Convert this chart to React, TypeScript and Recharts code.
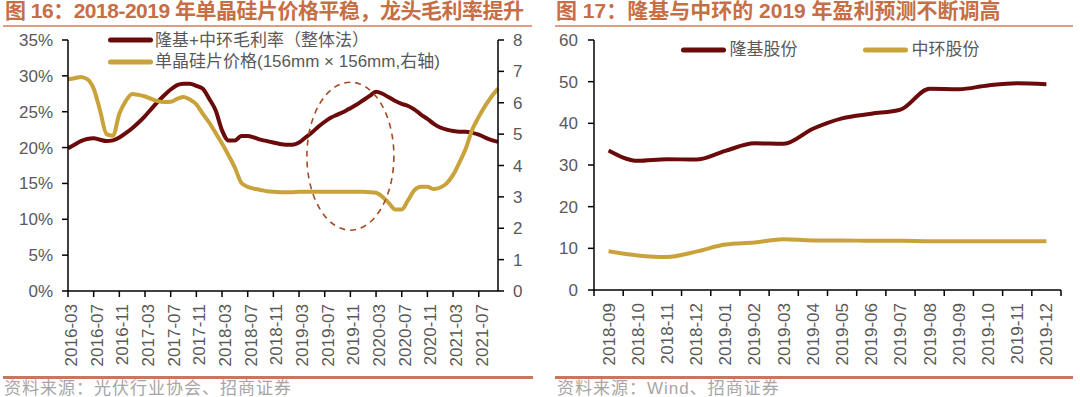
import React from 'react';
import { LineChart, Line, XAxis, YAxis, ReferenceDot, Legend } from 'recharts';

// ---------- Chart 16 data ----------
const months16 = [
  '2016-03', '2016-04', '2016-05', '2016-06', '2016-07', '2016-08', '2016-09', '2016-10', '2016-11', '2016-12',
  '2017-01', '2017-02', '2017-03', '2017-04', '2017-05', '2017-06', '2017-07', '2017-08', '2017-09', '2017-10', '2017-11', '2017-12',
  '2018-01', '2018-02', '2018-03', '2018-04', '2018-05', '2018-06', '2018-07', '2018-08', '2018-09', '2018-10', '2018-11', '2018-12',
  '2019-01', '2019-02', '2019-03', '2019-04', '2019-05', '2019-06', '2019-07', '2019-08', '2019-09', '2019-10', '2019-11', '2019-12',
  '2020-01', '2020-02', '2020-03', '2020-04', '2020-05', '2020-06', '2020-07', '2020-08', '2020-09', '2020-10', '2020-11', '2020-12',
  '2021-01', '2021-02', '2021-03', '2021-04', '2021-05', '2021-06', '2021-07', '2021-08', '2021-09', '2021-10',
];

// 隆基+中环毛利率（整体法）, %
const grossMargin = [
  19.9, 20.4, 20.9, 21.2, 21.3, 21.1, 20.9, 21.0, 21.4, 22.0,
  22.7, 23.5, 24.4, 25.4, 26.4, 27.3, 28.1, 28.7, 28.9, 28.9, 28.6, 28.2,
  26.8, 25.2, 22.4, 21.0, 21.0, 21.6, 21.6, 21.4, 21.1, 20.9, 20.7, 20.5,
  20.4, 20.4, 20.7, 21.4, 22.1, 22.9, 23.6, 24.2, 24.6, 25.0, 25.5, 26.0,
  26.6, 27.2, 27.8, 27.5, 27.0, 26.5, 26.1, 25.8, 25.3, 24.6, 24.0, 23.3,
  22.8, 22.5, 22.3, 22.2, 22.2, 22.05, 21.8, 21.4, 21.05, 20.8,
];

// 单晶硅片价格 (156mm x 156mm, 右轴)
const waferPrice = [
  6.75, 6.78, 6.82, 6.75, 6.45, 5.75, 5.0, 4.95, 5.65, 6.05,
  6.28, 6.25, 6.2, 6.12, 6.05, 6.02, 6.03, 6.12, 6.18, 6.1, 5.95, 5.65,
  5.37, 5.04, 4.7, 4.33, 3.93, 3.45, 3.32, 3.26, 3.22, 3.18, 3.16, 3.15,
  3.15, 3.15, 3.16, 3.16, 3.16, 3.16, 3.16, 3.16, 3.16, 3.16, 3.16, 3.16,
  3.16, 3.15, 3.13, 3.0, 2.8, 2.6, 2.6, 2.9, 3.22, 3.32, 3.32, 3.25,
  3.3, 3.43, 3.7, 4.1, 4.55, 5.15, 5.55, 5.9, 6.2, 6.45,
];

const leftTicks16 = [0, 5, 10, 15, 20, 25, 30, 35];
const rightTicks16 = [0, 1, 2, 3, 4, 5, 6, 7, 8];

// annotation ellipse centre (category, % on left axis)
const ellipseCenterMonth = '2019-11';
const ellipseCenterValue = 18.8;

// ---------- Chart 17 data ----------
const months17 = [
  '2018-09', '2018-10', '2018-11', '2018-12', '2019-01', '2019-02', '2019-03', '2019-04',
  '2019-05', '2019-06', '2019-07', '2019-08', '2019-09', '2019-10', '2019-11', '2019-12',
];
const longi = [33.5, 31.0, 31.4, 31.3, 33.4, 35.2, 35.1, 38.7, 41.2, 42.3, 43.3, 48.3, 48.2, 49.1, 49.6, 49.4];
const zhonghuan = [9.3, 8.3, 7.9, 9.2, 10.9, 11.4, 12.2, 11.9, 11.9, 11.8, 11.8, 11.7, 11.7, 11.7, 11.7, 11.7];
const ticks17 = [0, 10, 20, 30, 40, 50, 60];

// ---------- styles ----------
const FONT = '"Liberation Sans", Arial, "Noto Sans CJK SC", sans-serif';
const MAROON = '#6B0A0A';
const GOLD = '#C9A23B';
const TICK = '#595959';
const TITLE = '#C66E45';
const AXIS = { stroke: '#000', strokeWidth: 1.5 };

const data16 = months16.map((m, i) => ({ month: m, margin: grossMargin[i], price: waferPrice[i] }));
const data17 = months17.map((m, i) => ({ month: m, longi: longi[i], zhonghuan: zhonghuan[i] }));

const tickStyle = { fill: TICK, fontSize: 17, fontFamily: FONT };

const Tick16 = (props: any) => {
  const { x, y, payload } = props;
  const tx = x + 3;
  return (
    <text x={tx} y={y} transform={`rotate(-90 ${tx} ${y})`} textAnchor="end" dy="0.35em" fill={TICK} fontSize={17} fontFamily={FONT}>
      {payload.value}
    </text>
  );
};

const PLOT17_W = 467;
const BAND17 = PLOT17_W / months17.length;

const Tick17 = (props: any) => {
  const { x, y, payload, index } = props;
  const axisY = y - 13;
  const half = BAND17 / 2;
  return (
    <g>
      <line x1={x - half} x2={x - half} y1={axisY} y2={axisY + 6} stroke="#000" strokeWidth={1.5} />
      {index === months17.length - 1 && (
        <line x1={x + half} x2={x + half} y1={axisY} y2={axisY + 6} stroke="#000" strokeWidth={1.5} />
      )}
      <text x={x} y={y} transform={`rotate(-90 ${x} ${y})`} textAnchor="end" dy="0.35em" fill={TICK} fontSize={17} fontFamily={FONT}>
        {payload.value}
      </text>
    </g>
  );
};

const LegendLine = ({ color }: { color: string }) => (
  <svg width={45} height={8} style={{ display: 'block', flex: 'none' }}>
    <line x1={2.5} x2={42.5} y1={4} y2={4} stroke={color} strokeWidth={5} strokeLinecap="round" />
  </svg>
);

const Legend16 = () => (
  <div style={{ fontFamily: FONT, fontSize: 17, color: TICK, lineHeight: '21.7px', whiteSpace: 'nowrap' }}>
    <div style={{ display: 'flex', alignItems: 'center' }}>
      <LegendLine color={MAROON} />
      <span style={{ marginLeft: 2 }}>隆基+中环毛利率（整体法）</span>
    </div>
    <div style={{ display: 'flex', alignItems: 'center' }}>
      <LegendLine color={GOLD} />
      <span style={{ marginLeft: 2 }}>单晶硅片价格(156mm × 156mm,右轴)</span>
    </div>
  </div>
);

const Legend17 = () => (
  <div style={{ fontFamily: FONT, fontSize: 17, color: TICK, lineHeight: '22px', whiteSpace: 'nowrap', display: 'flex' }}>
    <div style={{ display: 'flex', alignItems: 'center', width: 182 }}>
      <LegendLine color={MAROON} />
      <span style={{ marginLeft: 4 }}>隆基股份</span>
    </div>
    <div style={{ display: 'flex', alignItems: 'center' }}>
      <LegendLine color={GOLD} />
      <span style={{ marginLeft: 4 }}>中环股份</span>
    </div>
  </div>
);

const EllipseShape = (props: any) => (
  <ellipse cx={props.cx} cy={props.cy} rx={43.5} ry={74} fill="none" stroke="#A54A22" strokeWidth={1.6} strokeDasharray="6 5" />
);

const titleStyle: React.CSSProperties = {
  position: 'absolute', top: -1, fontFamily: FONT, fontSize: 21, fontWeight: 'bold', color: TITLE,
  lineHeight: '24px', whiteSpace: 'nowrap',
};
const sourceStyle: React.CSSProperties = {
  position: 'absolute', top: 382, fontFamily: FONT, fontSize: 17, color: '#A6A6A6', lineHeight: '14px',
  letterSpacing: 1, whiteSpace: 'nowrap',
};

export default function App() {
  return (
    <div style={{ position: 'absolute', left: 0, top: 0, width: 1080, height: 397, background: '#fff', overflow: 'hidden' }}>
      {/* titles and rules */}
      <div style={{ ...titleStyle, left: 5, letterSpacing: -0.5 }}>图 16：2018-2019 年单晶硅片价格平稳，龙头毛利率提升</div>
      <div style={{ ...titleStyle, left: 556 }}>图 17：隆基与中环的 2019 年盈利预测不断调高</div>
      <div style={{ position: 'absolute', left: 3, top: 25, width: 529, height: 1.5, background: '#DE9C80' }} />
      <div style={{ position: 'absolute', left: 555, top: 25, width: 518, height: 1.5, background: '#DE9C80' }} />
      <div style={{ position: 'absolute', left: 3, top: 376, width: 530, height: 2.5, background: '#C8775A' }} />
      <div style={{ position: 'absolute', left: 555, top: 376, width: 518, height: 2.5, background: '#C8775A' }} />
      <div style={{ ...sourceStyle, left: 4 }}>资料来源：光伏行业协会、招商证券</div>
      <div style={{ ...sourceStyle, left: 557 }}>资料来源：Wind、招商证券</div>

      {/* Chart 16 */}
      <div style={{ position: 'absolute', left: 0, top: 0 }}>
        <LineChart width={540} height={397} data={data16} margin={{ top: 40, right: 0, bottom: 36, left: 0 }}>
          <XAxis dataKey="month" interval={3} height={70} tickSize={6} tickMargin={7} tick={<Tick16 />}
            axisLine={AXIS} tickLine={AXIS} padding={{ left: 0, right: 0 }} />
          <YAxis yAxisId="left" domain={[0, 35]} ticks={leftTicks16} width={68} tickSize={6} tickMargin={9}
            tickFormatter={(v: number) => `${v}%`} tick={tickStyle} axisLine={AXIS} tickLine={AXIS} interval={0} />
          <YAxis yAxisId="right" orientation="right" domain={[0, 8]} ticks={rightTicks16} width={42} tickSize={6} tickMargin={9}
            tick={tickStyle} axisLine={AXIS} tickLine={AXIS} interval={0} />
          <Line yAxisId="left" type="monotone" dataKey="margin" name="隆基+中环毛利率（整体法）" stroke={MAROON} strokeWidth={4}
            dot={false} activeDot={false} isAnimationActive={false} />
          <Line yAxisId="right" type="monotone" dataKey="price" name="单晶硅片价格(156mm × 156mm,右轴)" stroke={GOLD} strokeWidth={4}
            dot={false} activeDot={false} isAnimationActive={false} />
          <ReferenceDot yAxisId="left" x={ellipseCenterMonth} y={ellipseCenterValue} r={0} shape={EllipseShape} />
          <Legend layout="vertical" align="center" verticalAlign="middle" content={<Legend16 />}
            wrapperStyle={{ left: 108, top: 29.6, width: 'auto', height: 'auto' }} />
        </LineChart>
      </div>

      {/* Chart 17 */}
      <div style={{ position: 'absolute', left: 540, top: 0 }}>
        <LineChart width={540} height={397} data={data17} margin={{ top: 40, right: 19, bottom: 37, left: 0 }}>
          <XAxis dataKey="month" interval={0} height={70} tickSize={6} tickMargin={7} tick={<Tick17 />}
            axisLine={AXIS} tickLine={false} padding={{ left: BAND17 / 2, right: BAND17 / 2 }} />
          <YAxis domain={[0, 60]} ticks={ticks17} width={54} tickSize={6} tickMargin={10}
            tick={tickStyle} axisLine={AXIS} tickLine={AXIS} interval={0} />
          <Line type="monotone" dataKey="longi" name="隆基股份" stroke={MAROON} strokeWidth={4}
            dot={false} activeDot={false} isAnimationActive={false} />
          <Line type="monotone" dataKey="zhonghuan" name="中环股份" stroke={GOLD} strokeWidth={4}
            dot={false} activeDot={false} isAnimationActive={false} />
          <Legend layout="vertical" align="center" verticalAlign="middle" content={<Legend17 />}
            wrapperStyle={{ left: 140.5, top: 38.8, width: 'auto', height: 'auto' }} />
        </LineChart>
      </div>
    </div>
  );
}
